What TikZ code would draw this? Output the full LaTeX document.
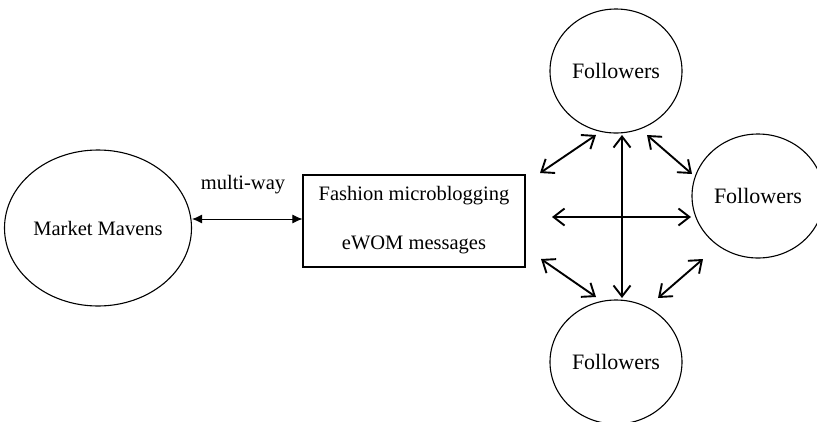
\documentclass[tikz,border=0pt]{standalone}
\usepackage{fontspec}
\setmainfont{Liberation Serif}
\usetikzlibrary{shapes.geometric,arrows.meta}
\begin{document}
\begin{tikzpicture}[x=1pt,y=-1pt,
  oval/.style={draw,line width=1.1pt,ellipse,inner sep=0pt},
  follower/.style={oval,minimum width=132pt,minimum height=124pt,font=\fontsize{22}{26}\selectfont},
  boxnode/.style={draw,line width=1.1pt,rectangle,inner sep=0pt,minimum width=222pt,minimum height=92pt},
  thick arrow/.style={line width=1.9pt,{Straight Barb[length=11pt,width=17pt]}-{Straight Barb[length=11pt,width=17pt]}},
  thin arrow/.style={line width=1pt,{Latex[length=10pt,width=9pt]}-{Latex[length=10pt,width=9pt]}},
  lbl/.style={font=\fontsize{20.5}{24}\selectfont}]
\useasboundingbox (0,0) rectangle (817,421);
\clip (0,0) rectangle (817,421);
\fill[white] (0,0) rectangle (817,421);
\node[oval,minimum width=187pt,minimum height=156pt,lbl] (mm) at (98,228) {Market Mavens};
\node[boxnode] (box) at (414,221) {};
\node[lbl] (t1) at (414,196) {Fashion microblogging};
\node[lbl] (t2) at (414,245) {eWOM messages};
\node[lbl] (mw) at (243,185) {multi-way};
\node[follower] (ft) at (616,71) {Followers};
\node[follower] (fr) at (758,196) {Followers};
\node[follower] (fb) at (616,362) {Followers};
\draw[thin arrow] (mm.east |- 0,219) coordinate (a1) -- (box.west |- 0,219) coordinate (a2);
\coordinate (v1) at (622,135);
\coordinate (v2) at (622,298);
\coordinate (h1) at (552,217);
\coordinate (h2) at (691,217);
\coordinate (d1a) at (540,173);
\coordinate (d1b) at (596,135);
\coordinate (d2a) at (647,135);
\coordinate (d2b) at (692,174);
\coordinate (d3a) at (541,259);
\coordinate (d3b) at (596,297);
\coordinate (d4a) at (703,259);
\coordinate (d4b) at (658,298);
\draw[thick arrow] (v1) -- (v2);
\draw[thick arrow] (h1) -- (h2);
\draw[thick arrow] (d1a) -- (d1b);
\draw[thick arrow] (d2a) -- (d2b);
\draw[thick arrow] (d3a) -- (d3b);
\draw[thick arrow] (d4a) -- (d4b);
\end{tikzpicture}
\end{document}
